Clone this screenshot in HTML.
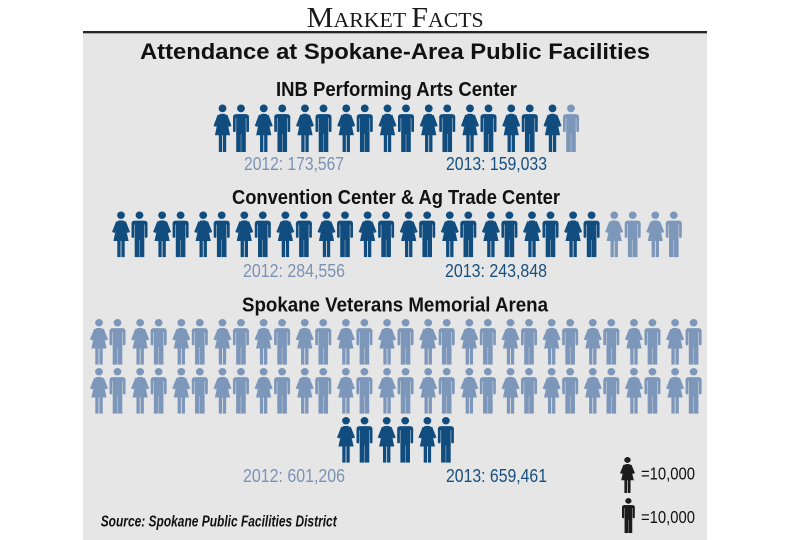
<!DOCTYPE html>
<html>
<head>
<meta charset="utf-8">
<style>
  html,body{margin:0;padding:0;background:#ffffff;}
  svg{display:block;}
</style>
</head>
<body>
<svg width="791" height="540" viewBox="0 0 791 540" xmlns="http://www.w3.org/2000/svg">
  <defs>
    <g id="w">
      <circle cx="9" cy="3.9" r="3.9"/>
      <polygon points="4.2,10.2 6.9,11.2 2.9,22.6 0,21.6"/>
      <polygon points="13.8,10.2 11.1,11.2 15.1,22.6 18,21.6"/>
      <path d="M5.8,9.8 Q9,8.9 12.2,9.8 L16.6,31 L1.4,31 Z"/>
      <rect x="5.3" y="30" width="3.3" height="18"/>
      <rect x="9.4" y="30" width="3.3" height="18"/>
    </g>
    <g id="m">
      <circle cx="8" cy="3.9" r="3.9"/>
      <path d="M0,12.8 Q0,9.8 3,9.8 L13,9.8 Q16,9.8 16,12.8 L16,13.8 L0,13.8 Z"/>
      <rect x="0" y="12" width="2.7" height="15.8" rx="1.3"/>
      <rect x="13.3" y="12" width="2.7" height="15.8" rx="1.3"/>
      <rect x="3.2" y="9.8" width="9.6" height="20"/>
      <rect x="3.2" y="29" width="4.6" height="19"/>
      <rect x="8.2" y="29" width="4.6" height="19"/>
    </g>
    <g id="p">
      <use href="#w"/>
      <use href="#m" x="19.5"/>
    </g>
  </defs>

  <!-- Header -->
  <text x="306.7" y="27" textLength="177" lengthAdjust="spacingAndGlyphs" font-family="Liberation Serif, serif" fill="#1a1a1a"><tspan font-size="29">M</tspan><tspan font-size="21">ARKET </tspan><tspan font-size="29">F</tspan><tspan font-size="21">ACTS</tspan></text>
  <rect x="83" y="31" width="624" height="2.4" fill="#262626"/>
  <rect x="83" y="33.4" width="624" height="506.6" fill="#e6e6e6"/>

  <!-- Titles -->
  <text x="140" y="59" textLength="510" lengthAdjust="spacingAndGlyphs" font-family="Liberation Sans, sans-serif" font-weight="bold" font-size="22" fill="#111">Attendance at Spokane-Area Public Facilities</text>
  <text x="276" y="96" textLength="241" lengthAdjust="spacingAndGlyphs" font-family="Liberation Sans, sans-serif" font-weight="bold" font-size="20.5" fill="#111">INB Performing Arts Center</text>
  <text x="232" y="204" textLength="328" lengthAdjust="spacingAndGlyphs" font-family="Liberation Sans, sans-serif" font-weight="bold" font-size="20.5" fill="#111">Convention Center &amp; Ag Trade Center</text>
  <text x="242" y="311.5" textLength="306" lengthAdjust="spacingAndGlyphs" font-family="Liberation Sans, sans-serif" font-weight="bold" font-size="20.5" fill="#111">Spokane Veterans Memorial Arena</text>

  <!-- Row 1 -->
  <g fill="#104c7e">
    <use href="#p" transform="translate(213.5,104.5) scale(1,0.99)"/>
    <use href="#p" transform="translate(254.75,104.5) scale(1,0.99)"/>
    <use href="#p" transform="translate(296,104.5) scale(1,0.99)"/>
    <use href="#p" transform="translate(337.25,104.5) scale(1,0.99)"/>
    <use href="#p" transform="translate(378.5,104.5) scale(1,0.99)"/>
    <use href="#p" transform="translate(419.75,104.5) scale(1,0.99)"/>
    <use href="#p" transform="translate(461,104.5) scale(1,0.99)"/>
    <use href="#p" transform="translate(502.25,104.5) scale(1,0.99)"/>
    <use href="#w" transform="translate(543.5,104.5) scale(1,0.99)"/>
  </g>
  <use href="#m" fill="#7d97ba" transform="translate(563,104.5) scale(1,0.99)"/>

  <text x="244" y="170" textLength="100" lengthAdjust="spacingAndGlyphs" font-family="Liberation Sans, sans-serif" font-size="18.5" fill="#7a93b5">2012: 173,567</text>
  <text x="446" y="170" textLength="101" lengthAdjust="spacingAndGlyphs" font-family="Liberation Sans, sans-serif" font-size="18.5" fill="#174f80">2013: 159,033</text>

  <!-- Row 2 -->
  <g fill="#104c7e">
    <use href="#p" transform="translate(112,211.5) scale(1,0.95)"/>
    <use href="#p" transform="translate(153.1,211.5) scale(1,0.95)"/>
    <use href="#p" transform="translate(194.2,211.5) scale(1,0.95)"/>
    <use href="#p" transform="translate(235.3,211.5) scale(1,0.95)"/>
    <use href="#p" transform="translate(276.4,211.5) scale(1,0.95)"/>
    <use href="#p" transform="translate(317.5,211.5) scale(1,0.95)"/>
    <use href="#p" transform="translate(358.6,211.5) scale(1,0.95)"/>
    <use href="#p" transform="translate(399.7,211.5) scale(1,0.95)"/>
    <use href="#p" transform="translate(440.8,211.5) scale(1,0.95)"/>
    <use href="#p" transform="translate(481.9,211.5) scale(1,0.95)"/>
    <use href="#p" transform="translate(523,211.5) scale(1,0.95)"/>
    <use href="#p" transform="translate(564.1,211.5) scale(1,0.95)"/>
  </g>
  <g fill="#7d97ba">
    <use href="#p" transform="translate(605.2,211.5) scale(1,0.95)"/>
    <use href="#p" transform="translate(646.3,211.5) scale(1,0.95)"/>
  </g>

  <text x="243" y="277" textLength="102" lengthAdjust="spacingAndGlyphs" font-family="Liberation Sans, sans-serif" font-size="18.5" fill="#7a93b5">2012: 284,556</text>
  <text x="445" y="277" textLength="102" lengthAdjust="spacingAndGlyphs" font-family="Liberation Sans, sans-serif" font-size="18.5" fill="#174f80">2013: 243,848</text>

  <!-- Row 3 a/b -->
  <g fill="#7d97ba">
    <use href="#p" transform="translate(90,319) scale(1,0.95)"/>
    <use href="#p" transform="translate(131.15,319) scale(1,0.95)"/>
    <use href="#p" transform="translate(172.3,319) scale(1,0.95)"/>
    <use href="#p" transform="translate(213.45,319) scale(1,0.95)"/>
    <use href="#p" transform="translate(254.6,319) scale(1,0.95)"/>
    <use href="#p" transform="translate(295.75,319) scale(1,0.95)"/>
    <use href="#p" transform="translate(336.9,319) scale(1,0.95)"/>
    <use href="#p" transform="translate(378.05,319) scale(1,0.95)"/>
    <use href="#p" transform="translate(419.2,319) scale(1,0.95)"/>
    <use href="#p" transform="translate(460.35,319) scale(1,0.95)"/>
    <use href="#p" transform="translate(501.5,319) scale(1,0.95)"/>
    <use href="#p" transform="translate(542.65,319) scale(1,0.95)"/>
    <use href="#p" transform="translate(583.8,319) scale(1,0.95)"/>
    <use href="#p" transform="translate(624.95,319) scale(1,0.95)"/>
    <use href="#p" transform="translate(666.1,319) scale(1,0.95)"/>

    <use href="#p" transform="translate(90,368) scale(1,0.95)"/>
    <use href="#p" transform="translate(131.15,368) scale(1,0.95)"/>
    <use href="#p" transform="translate(172.3,368) scale(1,0.95)"/>
    <use href="#p" transform="translate(213.45,368) scale(1,0.95)"/>
    <use href="#p" transform="translate(254.6,368) scale(1,0.95)"/>
    <use href="#p" transform="translate(295.75,368) scale(1,0.95)"/>
    <use href="#p" transform="translate(336.9,368) scale(1,0.95)"/>
    <use href="#p" transform="translate(378.05,368) scale(1,0.95)"/>
    <use href="#p" transform="translate(419.2,368) scale(1,0.95)"/>
    <use href="#p" transform="translate(460.35,368) scale(1,0.95)"/>
    <use href="#p" transform="translate(501.5,368) scale(1,0.95)"/>
    <use href="#p" transform="translate(542.65,368) scale(1,0.95)"/>
    <use href="#p" transform="translate(583.8,368) scale(1,0.95)"/>
    <use href="#p" transform="translate(624.95,368) scale(1,0.95)"/>
    <use href="#p" transform="translate(666.1,368) scale(1,0.95)"/>
  </g>
  <!-- Row 3 c -->
  <g fill="#104c7e">
    <use href="#p" transform="translate(337,417) scale(1,0.95)"/>
    <use href="#p" transform="translate(377.7,417) scale(1,0.95)"/>
    <use href="#p" transform="translate(418.4,417) scale(1,0.95)"/>
  </g>

  <text x="243" y="482" textLength="102" lengthAdjust="spacingAndGlyphs" font-family="Liberation Sans, sans-serif" font-size="18.5" fill="#7a93b5">2012: 601,206</text>
  <text x="446" y="482" textLength="101" lengthAdjust="spacingAndGlyphs" font-family="Liberation Sans, sans-serif" font-size="18.5" fill="#174f80">2013: 659,461</text>

  <!-- Legend -->
  <use href="#w" fill="#1c1c1c" transform="translate(620,457) scale(0.83,0.75)"/>
  <text x="641" y="479.5" textLength="54" lengthAdjust="spacingAndGlyphs" font-family="Liberation Sans, sans-serif" font-size="17.5" fill="#111">=10,000</text>
  <use href="#m" fill="#1c1c1c" transform="translate(622,498) scale(0.8,0.73)"/>
  <text x="641" y="523" textLength="54" lengthAdjust="spacingAndGlyphs" font-family="Liberation Sans, sans-serif" font-size="17.5" fill="#111">=10,000</text>

  <!-- Source -->
  <text x="100.7" y="526.7" textLength="236" lengthAdjust="spacingAndGlyphs" font-family="Liberation Sans, sans-serif" font-weight="bold" font-style="italic" font-size="16" fill="#111">Source: Spokane Public Facilities District</text>
</svg>
</body>
</html>
